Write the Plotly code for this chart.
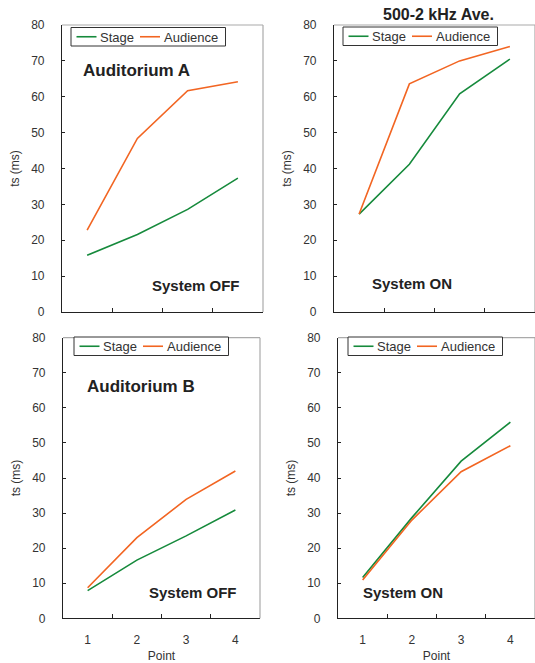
import plotly.graph_objects as go

# ---------------- data ----------------
points = [1, 2, 3, 4]
point_labels = ["1", "2", "3", "4"]
y_ticks = [0, 10, 20, 30, 40, 50, 60, 70, 80]

a_off_stage = [15.8, 21.6, 28.6, 37.3]
a_off_audience = [22.8, 48.4, 61.7, 64.2]
a_on_stage = [27.3, 41.2, 60.8, 70.5]
a_on_audience = [27.3, 63.6, 70.0, 74.0]
b_off_stage = [7.9, 16.6, 23.5, 30.9]
b_off_audience = [8.7, 23.0, 33.9, 42.0]
b_on_stage = [11.6, 28.7, 44.8, 55.9]
b_on_audience = [10.9, 28.0, 41.8, 49.2]

series_names = ["Stage", "Audience"]
GREEN = "#168a3c"
ORANGE = "#f26522"
TEXT = "#333333"
FONT = "Liberation Sans, Arial, sans-serif"
W, H = 535, 663

panels = [
    # (stage, audience, axis suffix, x domain px, y domain px (top, bottom), legend box left/top px)
    (a_off_stage, a_off_audience, "", (62, 263), (25, 312), (71, 27.5)),
    (a_on_stage, a_on_audience, "2", (334, 535), (25, 312), (343, 27)),
    (b_off_stage, b_off_audience, "3", (63, 260), (337.7, 618.3), (74, 337)),
    (b_on_stage, b_on_audience, "4", (338, 535), (337.7, 618.3), (348, 337)),
]


def px(x):
    return x / W


def py(y):
    return (H - y) / H


fig = go.Figure()
layout = dict(
    width=W, height=H,
    margin=dict(l=0, r=0, t=0, b=0, autoexpand=False),
    paper_bgcolor="white", plot_bgcolor="white",
    font=dict(family=FONT, size=12, color=TEXT),
    showlegend=False,
)
shapes = []
annotations = []
minor_vals = [p + 0.5 for p in points[:-1]]

for i, (st, au, sfx, (x0, x1), (ytop, ybot), (lx, ly)) in enumerate(panels):
    xa = "x" + sfx
    ya = "y" + sfx
    for name, vals, col in zip(series_names, [st, au], [GREEN, ORANGE]):
        fig.add_trace(go.Scatter(
            x=points, y=vals, mode="lines", name=name,
            line=dict(color=col, width=1.6),
            xaxis=xa, yaxis=ya,
        ))
    bottom = i >= 2
    layout["xaxis" + sfx] = dict(
        domain=[px(x0), px(x1)], anchor=ya, automargin=False,
        range=[0.5, 4.5], tickmode="array", tickvals=points, ticktext=point_labels,
        ticks="", showticklabels=bottom, showgrid=False, zeroline=False,
        showline=True, linecolor="#222222", linewidth=1.2,
        tickfont=dict(size=12, color=TEXT),
        ticklabelstandoff=10,
        minor=dict(tickmode="array", tickvals=minor_vals, ticks="inside",
                   ticklen=4, tickcolor="#222222", tickwidth=1, showgrid=False),
        title=dict(text="Point" if bottom else "", font=dict(size=12, color=TEXT), standoff=6),
    )
    layout["yaxis" + sfx] = dict(
        domain=[py(ybot), py(ytop)], anchor=xa, automargin=False,
        range=[0, 80], tickmode="array", tickvals=y_ticks,
        ticks="inside", ticklen=3, tickcolor="#222222",
        showgrid=False, zeroline=False,
        showline=True, linecolor="#222222", linewidth=1.2,
        tickfont=dict(size=12, color=TEXT),
        ticklabelstandoff=14,
        title=dict(text="ts (ms)", font=dict(size=12, color=TEXT), standoff=8),
    )
    # grey top/right frame
    shapes.append(dict(type="line", xref=xa + " domain", yref=ya + " domain",
                       x0=0, x1=1, y0=1, y1=1, line=dict(color="#aaaaaa", width=1.2)))
    shapes.append(dict(type="line", xref=xa + " domain", yref=ya + " domain",
                       x0=1, x1=1, y0=0, y1=1, line=dict(color="#aaaaaa", width=1.2)))
    # legend box (drawn in paper space)
    bw, bh = 154.5, 18.5
    yc = ly + bh / 2
    shapes.append(dict(type="rect", xref="paper", yref="paper",
                       x0=px(lx), x1=px(lx + bw), y0=py(ly + bh), y1=py(ly),
                       fillcolor="white", line=dict(color="#333333", width=1)))
    offs = [(5.5, 27), (69, 91)]
    for (lo, to), name, col in zip(offs, series_names, [GREEN, ORANGE]):
        shapes.append(dict(type="line", xref="paper", yref="paper",
                           x0=px(lx + lo), x1=px(lx + lo + 20), y0=py(yc), y1=py(yc),
                           line=dict(color=col, width=1.6)))
        annotations.append(dict(text=name, x=px(lx + to), y=py(yc + 0.5),
                                font=dict(size=13, color=TEXT)))

annotations += [
    dict(text="<b>Auditorium A</b>", x=px(81), y=py(71), font=dict(size=17, color="#222222")),
    dict(text="<b>System OFF</b>", x=px(150), y=py(285), font=dict(size=15, color="#222222")),
    dict(text="<b>500-2 kHz Ave.</b>", x=px(381), y=py(14), font=dict(size=16, color="#222222")),
    dict(text="<b>System ON</b>", x=px(370), y=py(283), font=dict(size=15, color="#222222")),
    dict(text="<b>Auditorium B</b>", x=px(85), y=py(387), font=dict(size=17, color="#222222")),
    dict(text="<b>System OFF</b>", x=px(147), y=py(592), font=dict(size=15, color="#222222")),
    dict(text="<b>System ON</b>", x=px(361), y=py(592), font=dict(size=15, color="#222222")),
]
for a in annotations:
    a.setdefault("xref", "paper")
    a.setdefault("yref", "paper")
    a.update(xanchor="left", yanchor="middle", showarrow=False)

layout["shapes"] = shapes
layout["annotations"] = annotations
fig.update_layout(**layout)
fig.write_html("out.html", config={"displayModeBar": False},
               post_script="document.body.style.margin='0';")
